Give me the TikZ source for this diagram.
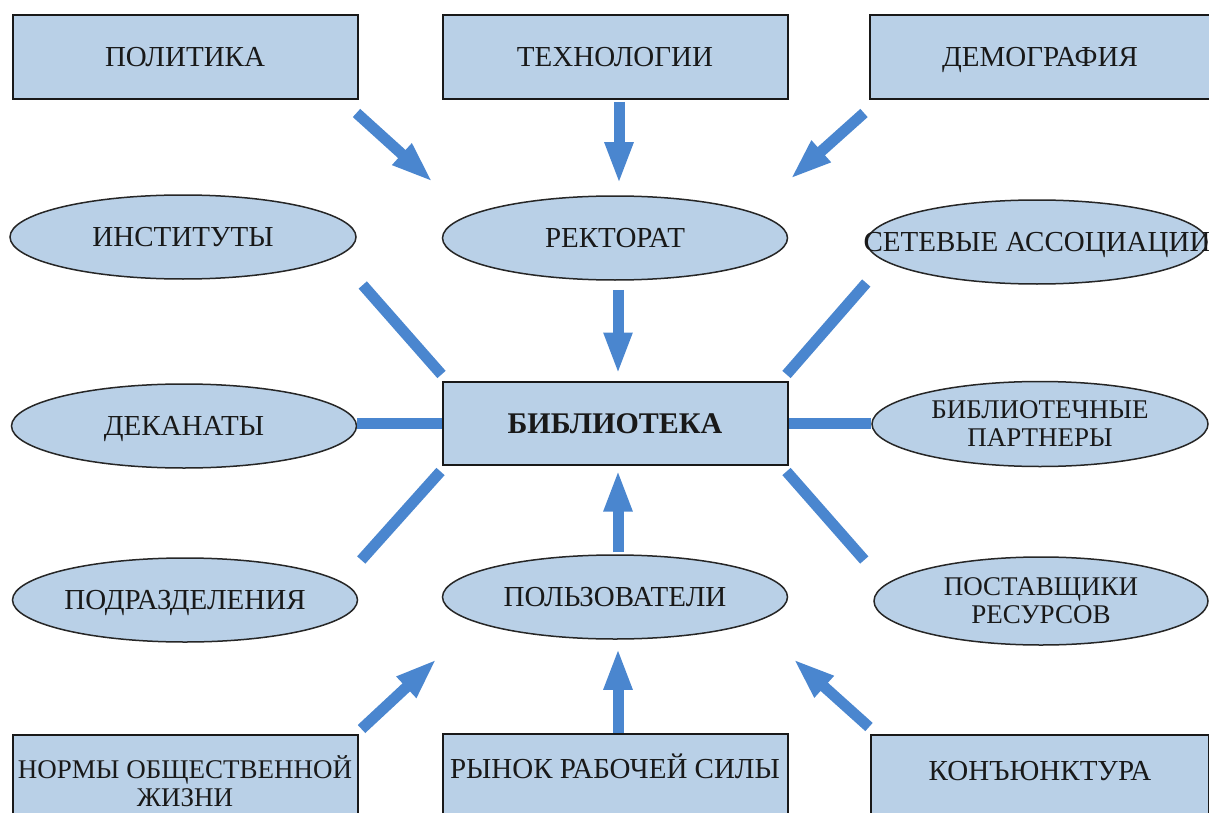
\documentclass[tikz,border=0pt]{standalone}
\usepackage{fontspec}
\setmainfont{Liberation Serif}
\usetikzlibrary{arrows.meta,shapes.geometric}
\definecolor{boxfill}{RGB}{185,208,231}
\definecolor{arrowblue}{RGB}{74,134,207}
\begin{document}
\begin{tikzpicture}[x=1pt,y=-1pt,
  txt/.style={font=\fontsize{29}{26}\selectfont, inner sep=0pt, text=black!90, text height=19pt, text depth=0pt},
  txt2/.style={font=\fontsize{27}{28}\selectfont, align=center, inner sep=0pt, text=black!90},
  rbox/.style={draw=black!90, line width=2pt, fill=boxfill, rectangle, minimum width=345pt, minimum height=84pt, inner sep=0pt},
  ell/.style={draw=black!85, line width=1.5pt, fill=boxfill, ellipse, minimum width=345pt, minimum height=84pt, inner sep=0pt},
  arr/.style={draw=arrowblue, line width=11pt, -{Triangle[width=26pt,length=42pt]}},
  link/.style={draw=arrowblue, line width=11pt},
]
\clip (0,0) rectangle (1209,813);
\fill[white] (0,0) rectangle (1209,813);

% top boxes
\node[rbox, label={[txt]center:ПОЛИТИКА}] (pol) at (185,57) {};
\node[rbox, label={[txt]center:ТЕХНОЛОГИИ}] (tech) at (615,57) {};
\node[rbox, minimum width=340pt, label={[txt]center:ДЕМОГРАФИЯ}] (dem) at (1040,57) {};

% row 1 ellipses
\node[ell, minimum width=346pt, label={[txt]center:ИНСТИТУТЫ}] (inst) at (183,237) {};
\node[ell, label={[txt]center:РЕКТОРАТ}] (rek) at (615,238) {};
\node[ell, minimum width=340pt, label={[txt]center:СЕТЕВЫЕ АССОЦИАЦИИ}] (set) at (1037,242) {};

% center
\node[rbox, minimum height=83pt, label={[txt, text height=20pt, font=\fontsize{30}{30}\selectfont\bfseries]center:БИБЛИОТЕКА}] (lib) at (615,423) {};

% row 3 ellipses
\node[ell, label={[txt]center:ДЕКАНАТЫ}] (dek) at (184,426) {};
\node[ell, minimum width=336pt, minimum height=85pt, label={[txt2]center:БИБЛИОТЕЧНЫЕ\\ПАРТНЕРЫ}] (part) at (1040,424) {};

% row 4 ellipses
\node[ell, label={[txt]center:ПОДРАЗДЕЛЕНИЯ}] (podr) at (185,600) {};
\node[ell, label={[txt]center:ПОЛЬЗОВАТЕЛИ}] (user) at (615,597) {};
\node[ell, minimum width=334pt, minimum height=88pt, label={[txt2]center:ПОСТАВЩИКИ\\РЕСУРСОВ}] (post) at (1041,601) {};

% bottom boxes
\node[rbox, label={[txt2, yshift=-4pt]center:НОРМЫ ОБЩЕСТВЕННОЙ\\ЖИЗНИ}] (norm) at (185,777) {};
\node[rbox, label={[txt, yshift=7pt]center:РЫНОК РАБОЧЕЙ СИЛЫ}] (ryn) at (615,776) {};
\node[rbox, minimum width=338pt, label={[txt, yshift=6pt]center:КОНЪЮНКТУРА}] (konj) at (1040,777) {};

% arrows
\draw[arr] ([shift={(-2,13)}]pol.south east) -- ([shift={(-182,-13)}]rek.north);
\draw[arr] ([shift={(4,2)}]tech.south) -- ([shift={(4,-11)}]rek.north);
\draw[arr] ([shift={(-5,13)}]dem.south west) -- ([shift={(175,-16)}]rek.north);
\draw[arr] ([shift={(3,9)}]rek.south) -- ([shift={(3,-6)}]lib.north);
\draw[arr] ([shift={(3,-2)}]user.north) -- ([shift={(3,4)}]lib.south);
\draw[arr] ([shift={(3,-5)}]norm.north east) -- ([shift={(-178,19)}]user.south);
\draw[arr] ([shift={(3,0)}]ryn.north) -- ([shift={(3,8)}]user.south);
\draw[arr] ([shift={(-1,-7)}]konj.north west) -- ([shift={(178,19)}]user.south);

% links
\draw[link] ([shift={(6,48)}]inst.east) -- ([shift={(0,-6)}]lib.north west);
\draw[link] ([shift={(0,41)}]set.west) -- ([shift={(-2,-6)}]lib.north east);
\draw[link] ([shift={(0,-3)}]dek.east) -- (lib.west);
\draw[link] (lib.east) -- ([shift={(0,-1)}]part.west);
\draw[link] ([shift={(3,-40)}]podr.east) -- ([shift={(-1,6)}]lib.south west);
\draw[link] ([shift={(-9,-41)}]post.west) -- ([shift={(-2,6)}]lib.south east);
\end{tikzpicture}
\end{document}
